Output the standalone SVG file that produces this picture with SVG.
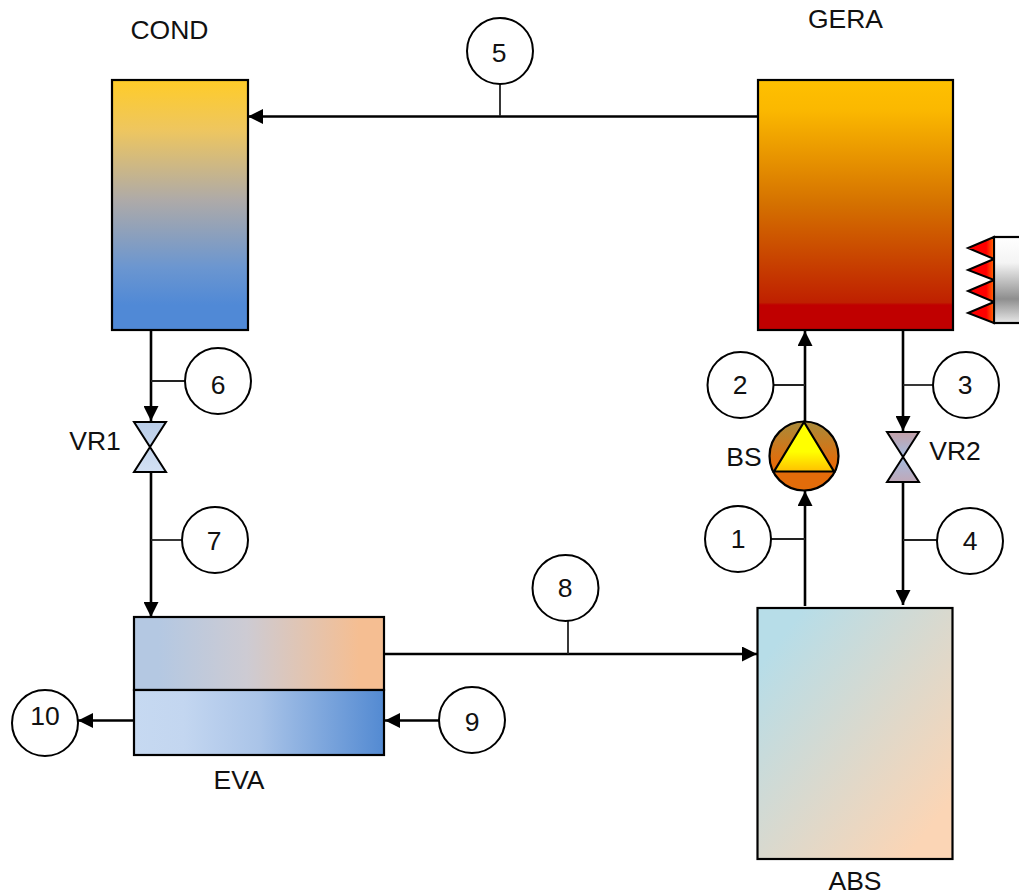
<svg xmlns="http://www.w3.org/2000/svg" width="1019" height="895" viewBox="0 0 1019 895">
<style>
text{font-family:"Liberation Sans",Arial,sans-serif;fill:#111;font-size:26.500px;text-anchor:middle}
.s{stroke:#000;stroke-width:2.200}
.c{fill:#fff;stroke:#000;stroke-width:2}
.l{fill:none;stroke:#000;stroke-width:2.600}
.t{fill:none;stroke:#222;stroke-width:1.800}
</style>
<defs>
<linearGradient id="gCond" x1="0" y1="0" x2="0" y2="1"><stop offset="0" stop-color="#ffcc28"/><stop offset=".2" stop-color="#eec65f"/><stop offset=".48" stop-color="#aeaaa8"/><stop offset=".75" stop-color="#6b96d0"/><stop offset=".9" stop-color="#5089d6"/><stop offset="1" stop-color="#5089d6"/></linearGradient>
<linearGradient id="gGera" x1="0" y1="0" x2="0" y2="1"><stop offset="0" stop-color="#ffc000"/><stop offset=".12" stop-color="#fbb800"/><stop offset=".5" stop-color="#d47000"/><stop offset=".89" stop-color="#bf2000"/><stop offset=".9" stop-color="#c00000"/><stop offset="1" stop-color="#c00000"/></linearGradient>
<linearGradient id="gEva1" x1="0" y1="0" x2="1" y2="0"><stop offset="0" stop-color="#b4c8e2"/><stop offset=".1" stop-color="#b4c8e2"/><stop offset=".45" stop-color="#cdcbd3"/><stop offset=".9" stop-color="#f5be92"/><stop offset="1" stop-color="#f5be92"/></linearGradient>
<linearGradient id="gEva2" x1="0" y1="0" x2="1" y2="0"><stop offset="0" stop-color="#c6d9f1"/><stop offset=".2" stop-color="#c3d6f0"/><stop offset=".5" stop-color="#aac4e8"/><stop offset="1" stop-color="#538ad2"/></linearGradient>
<linearGradient id="gAbs" x1="0" y1="0" x2="1" y2="1"><stop offset="0" stop-color="#b7dde8"/><stop offset=".12" stop-color="#b7dde8"/><stop offset=".88" stop-color="#fbd5b5"/><stop offset="1" stop-color="#fbd5b5"/></linearGradient>
<linearGradient id="gPump" x1="0" y1="0" x2="0" y2="1"><stop offset="0" stop-color="#a88b3a"/><stop offset=".6" stop-color="#e36c0a"/><stop offset="1" stop-color="#e36c0a"/></linearGradient>
<linearGradient id="gTri" x1="0" y1="0" x2="0" y2="1"><stop offset="0" stop-color="#ffff00"/><stop offset=".6" stop-color="#ffff00"/><stop offset="1" stop-color="#ffc000"/></linearGradient>
<linearGradient id="gV1" x1="0" y1="0" x2="0" y2="1"><stop offset="0" stop-color="#b9cde8"/><stop offset="1" stop-color="#d2e0f3"/></linearGradient>
<linearGradient id="gV2a" x1="0" y1="0" x2="0" y2="1"><stop offset="0" stop-color="#c4a0a8"/><stop offset="1" stop-color="#a4bce0"/></linearGradient>
<linearGradient id="gV2b" x1="0" y1="0" x2="0" y2="1"><stop offset="0" stop-color="#a4bce0"/><stop offset="1" stop-color="#c0a8b8"/></linearGradient>
<linearGradient id="gBurn" x1="0" y1="0" x2="0" y2="1"><stop offset="0" stop-color="#fff"/><stop offset=".3" stop-color="#f4f4f4"/><stop offset=".72" stop-color="#8e8e8e"/><stop offset="1" stop-color="#e8e8e8"/></linearGradient>
<linearGradient id="gFlame" x1="0" y1="0" x2="1" y2="0"><stop offset="0" stop-color="#ff0000"/><stop offset=".7" stop-color="#ff0000"/><stop offset="1" stop-color="#ff6a00"/></linearGradient>
<marker id="a" viewBox="0 0 15 15" refX="15" refY="7.500" markerWidth="15" markerHeight="15" markerUnits="userSpaceOnUse" orient="auto"><path d="M0 0L15 7.500L0 15Z" fill="#000"/></marker>
</defs>
<g id="connectors">
<path class="l" d="M758 116.500H248" marker-end="url(#a)"/>
<path class="t" d="M500 84V116"/>
<path class="l" d="M151 331V421" marker-end="url(#a)"/>
<path class="t" d="M151 381H186"/>
<path class="l" d="M151 473V617" marker-end="url(#a)"/>
<path class="t" d="M151 540H183"/>
<path class="l" d="M385 654H757" marker-end="url(#a)"/>
<path class="t" d="M568 621V654"/>
<path class="l" d="M805 606V491" marker-end="url(#a)"/>
<path class="t" d="M770 539H805"/>
<path class="l" d="M805 421V331" marker-end="url(#a)"/>
<path class="t" d="M772 385H805"/>
<path class="l" d="M903 331V431" marker-end="url(#a)"/>
<path class="t" d="M903 385H933"/>
<path class="l" d="M903 483V605" marker-end="url(#a)"/>
<path class="t" d="M903 540H937"/>
<path class="l" d="M439 720.500H385" marker-end="url(#a)"/>
<path class="l" d="M134 720.500H78" marker-end="url(#a)"/>
</g>
<g id="COND"><rect x="112" y="80" width="136" height="250" fill="url(#gCond)" class="s"/><text x="169.500" y="39">COND</text></g>
<g id="GERA"><rect x="758" y="80" width="195" height="250" fill="url(#gGera)" class="s"/><text x="845.500" y="28">GERA</text></g>
<g id="burner">
<rect x="994" y="237" width="30" height="86" fill="url(#gBurn)" class="s"/>
<path d="M994 237L968 248L994 259Z M994 259L968 270L994 280Z M994 280L968 291L994 302Z M994 302L968 313L994 323Z" fill="url(#gFlame)" stroke="#000" stroke-width="2" stroke-linejoin="miter"/>
</g>
<g id="EVA"><rect x="134" y="617" width="250" height="73" fill="url(#gEva1)" class="s"/><rect x="134" y="690" width="250" height="65" fill="url(#gEva2)" class="s"/><text x="239" y="789">EVA</text></g>
<g id="ABS"><rect x="757.500" y="608" width="195" height="251" fill="url(#gAbs)" class="s"/><text x="855" y="890">ABS</text></g>
<g id="BS"><circle cx="804" cy="456" r="34.500" fill="url(#gPump)" class="s"/><path d="M804 422L834 471.500H774Z" fill="url(#gTri)" stroke="#000" stroke-width="2.200"/><text x="744" y="466">BS</text></g>
<g id="VR1"><path d="M134 422H166L134 472H166Z" fill="url(#gV1)" stroke="#000" stroke-width="2"/><text x="95" y="450">VR1</text></g>
<g id="VR2"><path d="M887 432H919L903 457Z" fill="url(#gV2a)" stroke="#000" stroke-width="2"/><path d="M903 457L919 482H887Z" fill="url(#gV2b)" stroke="#000" stroke-width="2"/><text x="955" y="460">VR2</text></g>
<g id="n5"><circle class="c" cx="500" cy="51" r="33"/><text x="499" y="62">5</text></g>
<g id="n2"><circle class="c" cx="740.500" cy="385" r="33"/><text x="740" y="394">2</text></g>
<g id="n3"><circle class="c" cx="966" cy="385" r="33"/><text x="965" y="394">3</text></g>
<g id="n6"><circle class="c" cx="218" cy="381" r="33"/><text x="218" y="394">6</text></g>
<g id="n7"><circle class="c" cx="215" cy="540" r="33"/><text x="214" y="550">7</text></g>
<g id="n1"><circle class="c" cx="738" cy="539" r="33"/><text x="738" y="548">1</text></g>
<g id="n4"><circle class="c" cx="970" cy="541" r="33"/><text x="970" y="550">4</text></g>
<g id="n8"><circle class="c" cx="565.500" cy="588" r="33"/><text x="565" y="597">8</text></g>
<g id="n9"><circle class="c" cx="472" cy="720" r="33"/><text x="472" y="731">9</text></g>
<g id="n10"><circle class="c" cx="45" cy="723" r="33"/><text x="45" y="725">10</text></g>
</svg>
